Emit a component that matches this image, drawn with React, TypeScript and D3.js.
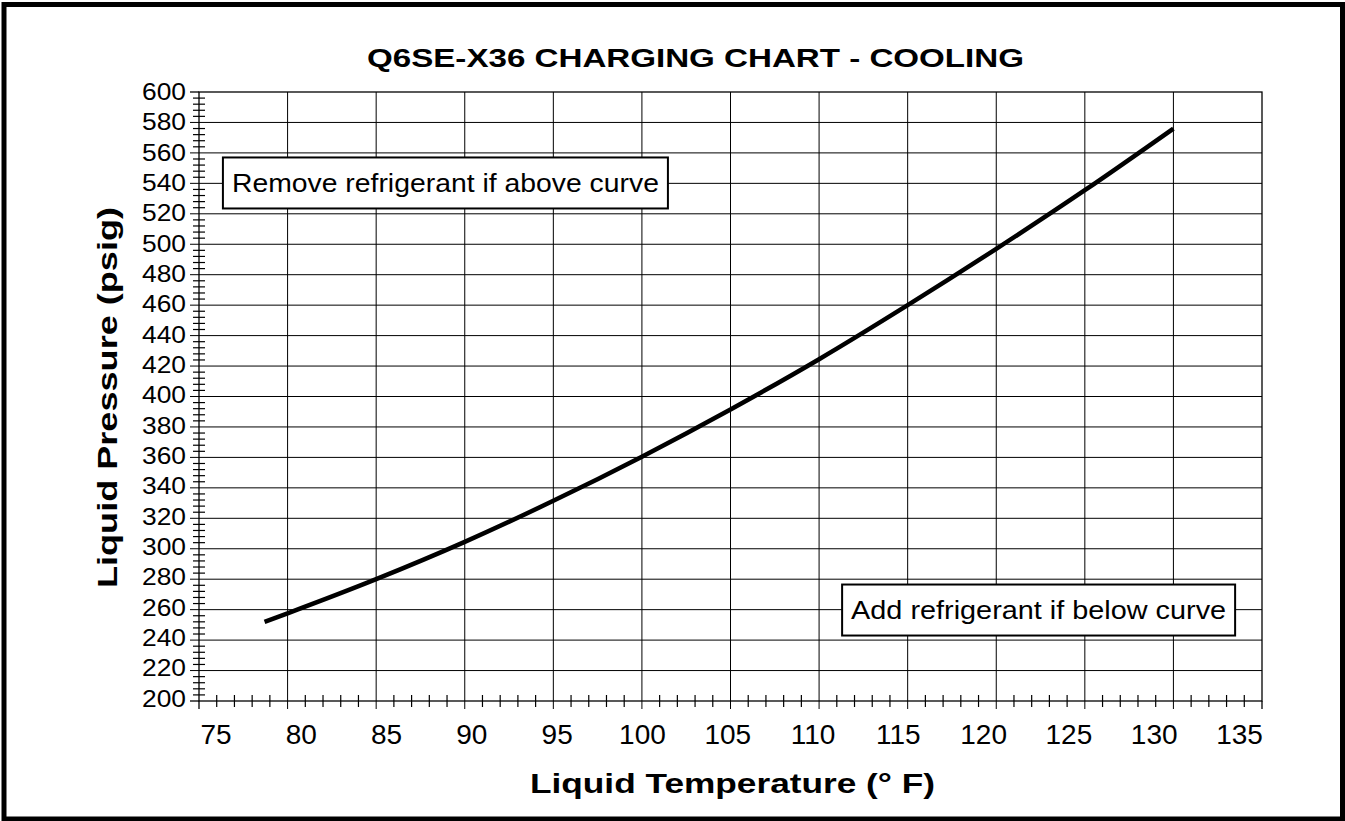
import * as d3 from 'd3';

// values
const temps = [78.7, 80, 85, 90, 95, 100, 105, 110, 115, 120, 125, 130];
const pressures = [252, 257.6, 280, 304.5, 331.5, 360.5, 391.5, 424.5, 460, 497, 535.5, 576];

const xTickLabels = [75, 80, 85, 90, 95, 100, 105, 110, 115, 120, 125, 130, 135];
const yTickLabels = [200, 220, 240, 260, 280, 300, 320, 340, 360, 380, 400, 420, 440, 460, 480, 500, 520, 540, 560, 580, 600];

const title = 'Q6SE-X36 CHARGING CHART - COOLING';
const xTitle = 'Liquid Temperature (° F)';
const yTitle = 'Liquid Pressure (psig)';

const notes = [
  { text: 'Remove refrigerant if above curve', t: 76.35, p: 557, textLen: 427 },
  { text: 'Add refrigerant if below curve', t: 111.3, p: 276.5, textLen: 375 },
];

const W = 1345;
const H = 821;
const FONT = '"Liberation Sans", Arial, Helvetica, sans-serif';

const App = () => {
  const x = d3.scaleLinear().domain([75, 135]).range([199, 1262]);
  const y = d3.scaleLinear().domain([200, 600]).range([701, 92]);
  // tick labels in the original are spread slightly differently from the grid
  const xLab = d3.scaleLinear().domain([75, 135]).range([216, 1239.5]);
  const yLab = d3.scaleLinear().domain([200, 600]).range([698.5, 91.7]);

  const minorX = d3.range(76, 135).filter((v) => v % 5 !== 0);
  const minorY = d3.range(204, 600, 4).filter((v) => v % 20 !== 0);
  const gridX = d3.range(80, 135, 5);
  const gridY = d3.range(220, 600, 20);

  const pts = temps.map((t, i) => [t, pressures[i]] as [number, number]);
  const line = d3.line<[number, number]>()
    .x((d) => x(d[0]))
    .y((d) => y(d[1]))
    .curve(d3.curveMonotoneX);

  const [x0, x1] = x.range();
  const [y0, y1] = y.range();

  return (
    <svg width={W} height={H} style={{ position: 'absolute', left: 0, top: 0, background: '#fff' }} fontFamily={FONT}>
      <rect x={4} y={4.5} width={1338.5} height={814.5} fill="#fff" stroke="#000" strokeWidth={5} />

      <text x={695.5} y={66.5} textAnchor="middle" fontSize={26.5} fontWeight="bold" textLength={657} lengthAdjust="spacingAndGlyphs">
        {title}
      </text>

      {/* grid */}
      {gridX.map((v) => (
        <line key={'gx' + v} x1={x(v)} x2={x(v)} y1={y1} y2={y0 + 8} stroke="#000" strokeWidth={1} />
      ))}
      {gridY.map((v) => (
        <line key={'gy' + v} x1={x0 - 9} x2={x1} y1={y(v)} y2={y(v)} stroke="#000" strokeWidth={1} />
      ))}

      {/* minor ticks */}
      {minorX.map((v) => (
        <line key={'mx' + v} x1={x(v)} x2={x(v)} y1={y0 - 6} y2={y0 + 6} stroke="#000" strokeWidth={1.2} />
      ))}
      {minorY.map((v) => (
        <line key={'my' + v} x1={x0 - 6} x2={x0 + 6} y1={y(v)} y2={y(v)} stroke="#000" strokeWidth={1.2} />
      ))}

      {/* frame */}
      <rect x={x0} y={y1} width={x1 - x0} height={y0 - y1} fill="none" stroke="#000" strokeWidth={1.3} />
      <line x1={x0} x2={x0} y1={y0} y2={y0 + 8} stroke="#000" strokeWidth={1.3} />
      <line x1={x1} x2={x1} y1={y0} y2={y0 + 8} stroke="#000" strokeWidth={1.3} />
      <line x1={x0 - 9} x2={x0} y1={y(200)} y2={y(200)} stroke="#000" strokeWidth={1.3} />
      <line x1={x0 - 9} x2={x0} y1={y(600)} y2={y(600)} stroke="#000" strokeWidth={1.3} />

      {/* notes */}
      {notes.map((n) => {
        const bx = x(n.t);
        const by = y(n.p);
        const bw = n.textLen + 18;
        return (
          <g key={n.text}>
            <rect x={bx} y={by} width={bw} height={51} fill="#fff" stroke="#000" strokeWidth={2} />
            <text x={bx + 9} y={by + 34.5} fontSize={26.5} textLength={n.textLen} lengthAdjust="spacingAndGlyphs">
              {n.text}
            </text>
          </g>
        );
      })}

      {/* curve */}
      <path d={line(pts) || ''} fill="none" stroke="#000" strokeWidth={4.5} />

      {/* tick labels */}
      {xTickLabels.map((v) => (
        <text key={'xl' + v} x={xLab(v)} y={744} textAnchor="middle" fontSize={28}>
          {v}
        </text>
      ))}
      {yTickLabels.map((v) => (
        <text key={'yl' + v} x={186} y={yLab(v) + 8.3} textAnchor="end" fontSize={23} textLength={44} lengthAdjust="spacingAndGlyphs">
          {v}
        </text>
      ))}

      <text x={732.5} y={793} textAnchor="middle" fontSize={28} fontWeight="bold" textLength={405} lengthAdjust="spacingAndGlyphs">
        {xTitle}
      </text>
      <text
        transform="translate(117,397.5) rotate(-90)"
        textAnchor="middle"
        fontSize={28}
        fontWeight="bold"
        textLength={381}
        lengthAdjust="spacingAndGlyphs"
      >
        {yTitle}
      </text>
    </svg>
  );
};

export default App;
